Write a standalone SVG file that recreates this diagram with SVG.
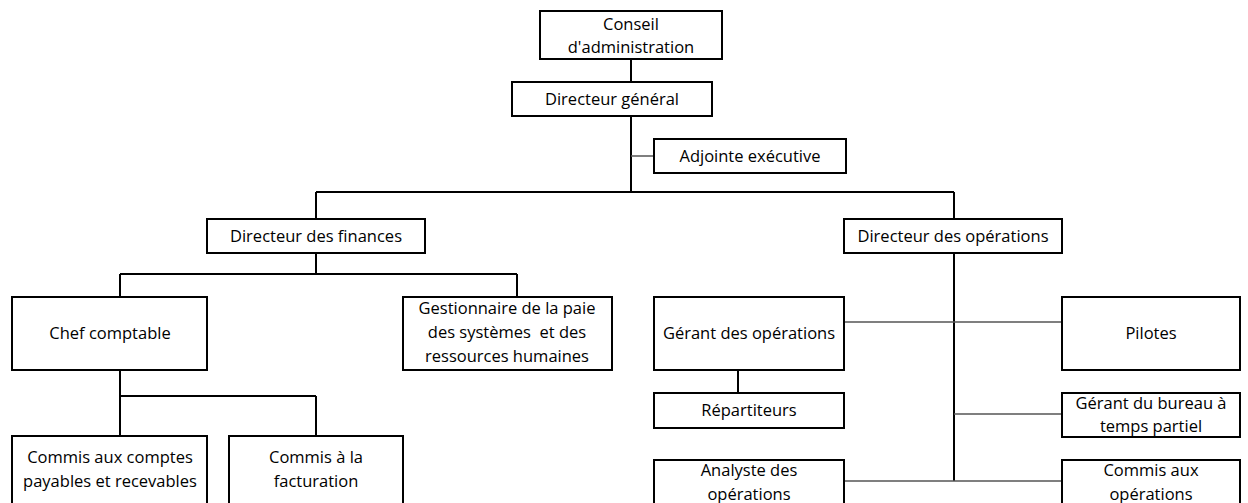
<svg xmlns="http://www.w3.org/2000/svg" width="1248" height="503" viewBox="0 0 1248 503">
<style>
.box{fill:#fff;stroke:#000;stroke-width:2}
.t{font-family:"Open Sans","Liberation Sans",sans-serif;font-size:16.5px;fill:#000;text-anchor:middle}
.ln{stroke:#000;stroke-width:2;fill:none}
.thin{stroke:#555;stroke-width:1.3;fill:none}
</style>
<rect width="1248" height="503" fill="#fff"/>
<g id="connectors">
<path class="ln" d="M631 59V82M631 116V192M316 192H954M316 192V219M954 192V219M316 253V274M120 274H517M120 274V297M517 274V297M120 370V396M120 396H316M120 396V436M316 396V436M954 253V481M738 370V393"/>
<path class="thin" d="M631 156H654M844 322H1062M954 414H1062M844 481H1062"/>
</g>
<g id="conseil"><rect class="box" x="540" y="11" width="182" height="48"/><text class="t" x="631" y="30">Conseil</text><text class="t" x="631" y="53">d'administration</text></g>
<g id="dg"><rect class="box" x="512" y="82" width="200" height="34"/><text class="t" x="612" y="105">Directeur général</text></g>
<g id="adjointe"><rect class="box" x="654" y="139" width="192" height="34"/><text class="t" x="750" y="162">Adjointe exécutive</text></g>
<g id="df"><rect class="box" x="207" y="219" width="218" height="34"/><text class="t" x="316" y="242">Directeur des finances</text></g>
<g id="do"><rect class="box" x="844" y="219" width="218" height="34"/><text class="t" x="953" y="242">Directeur des opérations</text></g>
<g id="chef"><rect class="box" x="12" y="297" width="195" height="73"/><text class="t" x="110" y="339">Chef comptable</text></g>
<g id="gest"><rect class="box" x="403" y="297" width="209" height="73"/><text class="t" x="507" y="314">Gestionnaire de la paie</text><text class="t" x="507" y="338" xml:space="preserve" style="white-space:pre">des systèmes  et des</text><text class="t" x="507" y="362">ressources humaines</text></g>
<g id="commis-comptes"><rect class="box" x="12" y="436" width="195" height="72"/><text class="t" x="110" y="463">Commis aux comptes</text><text class="t" x="110" y="487">payables et recevables</text></g>
<g id="commis-fact"><rect class="box" x="229" y="436" width="174" height="72"/><text class="t" x="316" y="463">Commis à la</text><text class="t" x="316" y="487">facturation</text></g>
<g id="gerant-ops"><rect class="box" x="654" y="297" width="190" height="73"/><text class="t" x="749" y="339">Gérant des opérations</text></g>
<g id="pilotes"><rect class="box" x="1062" y="297" width="178" height="73"/><text class="t" x="1151" y="339">Pilotes</text></g>
<g id="repartiteurs"><rect class="box" x="654" y="393" width="190" height="35"/><text class="t" x="749" y="416">Répartiteurs</text></g>
<g id="gerant-bureau"><rect class="box" x="1062" y="393" width="178" height="44"/><text class="t" x="1151" y="409">Gérant du bureau à</text><text class="t" x="1151" y="432">temps partiel</text></g>
<g id="analyste"><rect class="box" x="654" y="460" width="190" height="50"/><text class="t" x="749" y="476">Analyste des</text><text class="t" x="749" y="500">opérations</text></g>
<g id="commis-ops"><rect class="box" x="1062" y="460" width="178" height="50"/><text class="t" x="1151" y="476">Commis aux</text><text class="t" x="1151" y="500">opérations</text></g>
</svg>
